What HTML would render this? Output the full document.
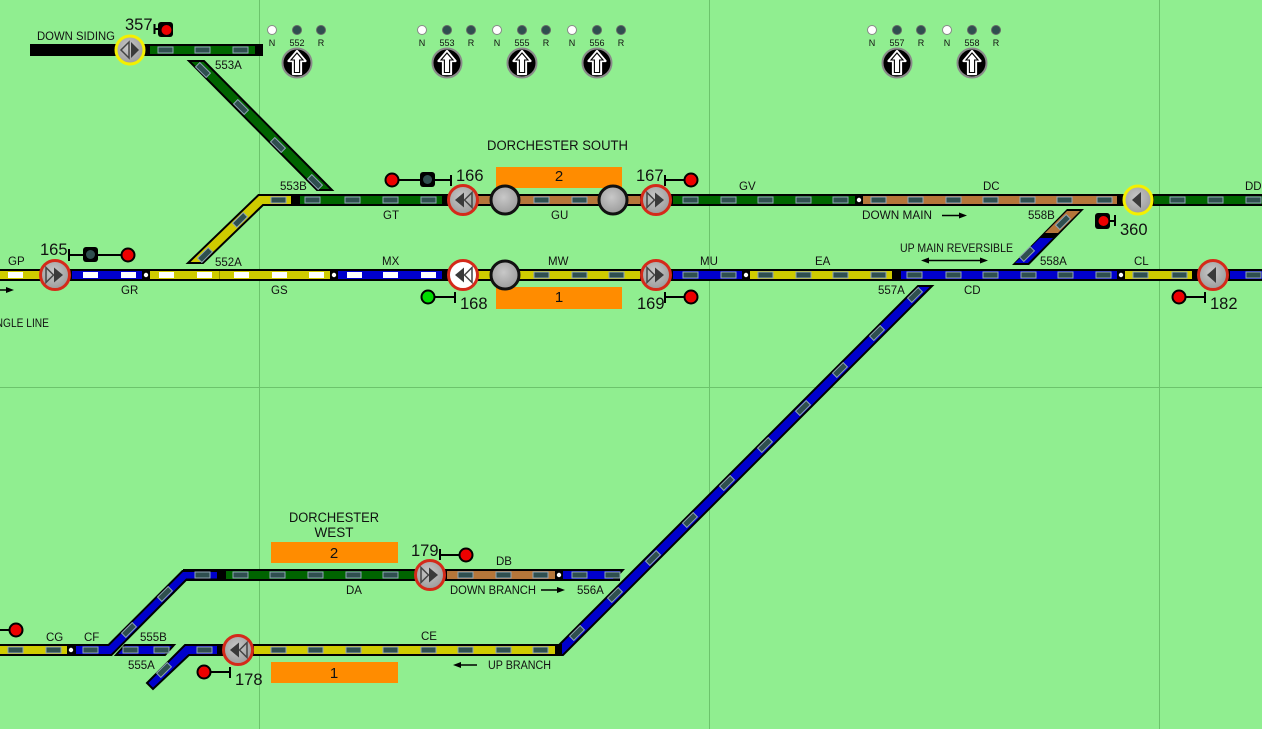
<!DOCTYPE html>
<html><head><meta charset="utf-8">
<style>
html,body{margin:0;padding:0;background:#90ee90;width:1262px;height:729px;overflow:hidden;}
svg{display:block;}
text{font-family:"Liberation Sans",sans-serif;fill:#111;}
.l{font-size:11.5px;}
.n{font-size:16.5px;}
.k{font-size:9px;}
</style></head><body>
<svg width="1262" height="729" viewBox="0 0 1262 729" xmlns="http://www.w3.org/2000/svg">
<defs>
<rect id="s" width="15" height="6" fill="#2f4f4f" stroke="#8fa6b6" stroke-width="1"/>
<rect id="w" width="15" height="6" fill="#ffffff"/>
<radialGradient id="g" cx="0.45" cy="0.4" r="0.65"><stop offset="0" stop-color="#c8c8c8"/><stop offset="1" stop-color="#989898"/></radialGradient>
<g id="arr">
<polygon points="0,-12 8.5,-2 4,-2 4,11 -4,11 -4,-2 -8.5,-2" fill="#fff" stroke="#fff" stroke-width="2.2" stroke-linejoin="round"/>
<polygon points="0,-10 6,-3 2.6,-3 2.6,9.5 -2.6,9.5 -2.6,-3 -6,-3" fill="#fff" stroke="#000" stroke-width="1.1"/>
</g>
</defs>
<rect width="1262" height="729" fill="#90ee90"/>
<g stroke="#6cc46c" stroke-width="1">
<line x1="259.5" y1="0" x2="259.5" y2="729"/>
<line x1="709.5" y1="0" x2="709.5" y2="729"/>
<line x1="1159.5" y1="0" x2="1159.5" y2="729"/>
<line x1="0" y1="387.5" x2="1262" y2="387.5"/>
</g>

<!-- ===== Top levers ===== -->
<g>
<circle cx="272" cy="30" r="4.5" fill="#fff" stroke="#888" stroke-width="1"/>
<circle cx="297" cy="30" r="4.5" fill="#2f4f4f" stroke="#666" stroke-width="1"/>
<circle cx="321" cy="30" r="4.5" fill="#2f4f4f" stroke="#666" stroke-width="1"/>
<text class="k" x="272" y="46" text-anchor="middle">N</text>
<text class="k" x="297" y="46" text-anchor="middle">552</text>
<text class="k" x="321" y="46" text-anchor="middle">R</text>
<circle cx="297" cy="63" r="14.5" fill="#000" stroke="#8a8a8a" stroke-width="2"/>
<use href="#arr" transform="translate(297,63)"/>

<circle cx="422" cy="30" r="4.5" fill="#fff" stroke="#888" stroke-width="1"/>
<circle cx="447" cy="30" r="4.5" fill="#2f4f4f" stroke="#666" stroke-width="1"/>
<circle cx="471" cy="30" r="4.5" fill="#2f4f4f" stroke="#666" stroke-width="1"/>
<text class="k" x="422" y="46" text-anchor="middle">N</text>
<text class="k" x="447" y="46" text-anchor="middle">553</text>
<text class="k" x="471" y="46" text-anchor="middle">R</text>
<circle cx="447" cy="63" r="14.5" fill="#000" stroke="#8a8a8a" stroke-width="2"/>
<use href="#arr" transform="translate(447,63)"/>

<circle cx="497" cy="30" r="4.5" fill="#fff" stroke="#888" stroke-width="1"/>
<circle cx="522" cy="30" r="4.5" fill="#2f4f4f" stroke="#666" stroke-width="1"/>
<circle cx="546" cy="30" r="4.5" fill="#2f4f4f" stroke="#666" stroke-width="1"/>
<text class="k" x="497" y="46" text-anchor="middle">N</text>
<text class="k" x="522" y="46" text-anchor="middle">555</text>
<text class="k" x="546" y="46" text-anchor="middle">R</text>
<circle cx="522" cy="63" r="14.5" fill="#000" stroke="#8a8a8a" stroke-width="2"/>
<use href="#arr" transform="translate(522,63)"/>

<circle cx="572" cy="30" r="4.5" fill="#fff" stroke="#888" stroke-width="1"/>
<circle cx="597" cy="30" r="4.5" fill="#2f4f4f" stroke="#666" stroke-width="1"/>
<circle cx="621" cy="30" r="4.5" fill="#2f4f4f" stroke="#666" stroke-width="1"/>
<text class="k" x="572" y="46" text-anchor="middle">N</text>
<text class="k" x="597" y="46" text-anchor="middle">556</text>
<text class="k" x="621" y="46" text-anchor="middle">R</text>
<circle cx="597" cy="63" r="14.5" fill="#000" stroke="#8a8a8a" stroke-width="2"/>
<use href="#arr" transform="translate(597,63)"/>

<circle cx="872" cy="30" r="4.5" fill="#fff" stroke="#888" stroke-width="1"/>
<circle cx="897" cy="30" r="4.5" fill="#2f4f4f" stroke="#666" stroke-width="1"/>
<circle cx="921" cy="30" r="4.5" fill="#2f4f4f" stroke="#666" stroke-width="1"/>
<text class="k" x="872" y="46" text-anchor="middle">N</text>
<text class="k" x="897" y="46" text-anchor="middle">557</text>
<text class="k" x="921" y="46" text-anchor="middle">R</text>
<circle cx="897" cy="63" r="14.5" fill="#000" stroke="#8a8a8a" stroke-width="2"/>
<use href="#arr" transform="translate(897,63)"/>

<circle cx="947" cy="30" r="4.5" fill="#fff" stroke="#888" stroke-width="1"/>
<circle cx="972" cy="30" r="4.5" fill="#2f4f4f" stroke="#666" stroke-width="1"/>
<circle cx="996" cy="30" r="4.5" fill="#2f4f4f" stroke="#666" stroke-width="1"/>
<text class="k" x="947" y="46" text-anchor="middle">N</text>
<text class="k" x="972" y="46" text-anchor="middle">558</text>
<text class="k" x="996" y="46" text-anchor="middle">R</text>
<circle cx="972" cy="63" r="14.5" fill="#000" stroke="#8a8a8a" stroke-width="2"/>
<use href="#arr" transform="translate(972,63)"/>
</g>

<!-- ===== Top siding ===== -->
<rect x="30" y="44" width="233" height="12" fill="#000"/>
<rect x="150" y="46" width="105" height="8" fill="#006400"/>
<use href="#s" x="158" y="47"/><use href="#s" x="195" y="47"/><use href="#s" x="233" y="47"/>
<text class="l" x="37" y="40" textLength="78" lengthAdjust="spacingAndGlyphs">DOWN SIDING</text>
<text class="l" x="215" y="69">553A</text>
<polygon points="189,61 204,61 332,190 317,190" fill="#006400" stroke="#000" stroke-width="2"/>
<use href="#s" transform="translate(203,70) rotate(45) translate(-7.5,-3)"/>
<use href="#s" transform="translate(241,107) rotate(45) translate(-7.5,-3)"/>
<use href="#s" transform="translate(278,145) rotate(45) translate(-7.5,-3)"/>
<use href="#s" transform="translate(315,182) rotate(45) translate(-7.5,-3)"/>
<!-- signal 357 -->
<circle cx="130" cy="50" r="14" fill="url(#g)" stroke="#f4f000" stroke-width="3"/>
<polygon points="129,42 129,58 121,50" fill="none" stroke="#444" stroke-width="1.5"/>
<polygon points="131,42 131,58 139,50" fill="#3a3a3a"/>
<text class="n" x="125" y="30">357</text>
<rect x="153.5" y="24" width="2" height="10" fill="#000"/>
<rect x="155" y="28" width="4" height="2" fill="#000"/>
<rect x="158" y="22" width="15" height="15" rx="3" fill="#000"/>
<circle cx="166.5" cy="30" r="5" fill="#ee0000"/>

<!-- ===== Row A (down main) y=200 ===== -->
<rect x="290" y="194" width="972" height="12" fill="#000"/>
<polygon points="188,263 258.5,195 292,195 292,205 263,205 203,263" fill="#cfcb00" stroke="#000" stroke-width="2"/>
<use href="#s" transform="translate(205,255) rotate(-45) translate(-7.5,-3)"/>
<use href="#s" transform="translate(240,220) rotate(-45) translate(-7.5,-3)"/>
<use href="#s" x="271" y="197"/>
<rect x="300" y="196" width="142" height="8" fill="#006400"/>
<rect x="478" y="196" width="162" height="8" fill="#b5763a"/>
<rect x="673" y="196" width="182" height="8" fill="#006400"/>
<circle cx="859" cy="200" r="2.2" fill="#fff"/>
<rect x="863" y="196" width="254" height="8" fill="#b5763a"/>
<rect x="1154" y="196" width="108" height="8" fill="#006400"/>
<g>
<use href="#s" x="305" y="197"/><use href="#s" x="345" y="197"/><use href="#s" x="383" y="197"/><use href="#s" x="421" y="197"/>
<use href="#s" x="534" y="197"/><use href="#s" x="572" y="197"/>
<use href="#s" x="683" y="197"/><use href="#s" x="721" y="197"/><use href="#s" x="758" y="197"/><use href="#s" x="796" y="197"/><use href="#s" x="833" y="197"/>
<use href="#s" x="871" y="197"/><use href="#s" x="908" y="197"/><use href="#s" x="946" y="197"/><use href="#s" x="983" y="197"/><use href="#s" x="1020" y="197"/><use href="#s" x="1057" y="197"/><use href="#s" x="1097" y="197"/>
<use href="#s" x="1170" y="197"/><use href="#s" x="1208" y="197"/><use href="#s" x="1246" y="197"/>
</g>

<!-- ===== Row B (up main) y=275 ===== -->
<rect x="0" y="269" width="1262" height="12" fill="#000"/>
<rect x="0" y="271" width="40" height="8" fill="#cfcb00"/>
<rect x="72" y="271" width="70" height="8" fill="#0000cc"/>
<circle cx="146" cy="275" r="2.2" fill="#fff"/>
<rect x="150" y="271" width="180" height="8" fill="#cfcb00"/>
<rect x="219" y="271" width="0.8" height="8" fill="#8a8600"/>
<circle cx="334" cy="275" r="2.2" fill="#fff"/>
<rect x="338" y="271" width="104" height="8" fill="#0000cc"/>
<rect x="478" y="271" width="162" height="8" fill="#cfcb00"/>
<rect x="673" y="271" width="69" height="8" fill="#0000cc"/>
<circle cx="746" cy="275" r="2.2" fill="#fff"/>
<rect x="750" y="271" width="142" height="8" fill="#cfcb00"/>
<rect x="901" y="271" width="216" height="8" fill="#0000cc"/>
<circle cx="1121" cy="275" r="2.2" fill="#fff"/>
<rect x="1125" y="271" width="67" height="8" fill="#cfcb00"/>
<rect x="1230" y="271" width="32" height="8" fill="#0000cc"/>
<g>
<use href="#w" x="8" y="272"/>
<use href="#w" x="83" y="272"/><use href="#w" x="121" y="272"/>
<use href="#w" x="159" y="272"/><use href="#w" x="197" y="272"/><use href="#w" x="234" y="272"/><use href="#w" x="272" y="272"/><use href="#w" x="309" y="272"/>
<use href="#w" x="347" y="272"/><use href="#w" x="383" y="272"/><use href="#w" x="421" y="272"/>
<use href="#s" x="534" y="272"/><use href="#s" x="572" y="272"/><use href="#s" x="609" y="272"/>
<use href="#s" x="683" y="272"/><use href="#s" x="721" y="272"/>
<use href="#s" x="758" y="272"/><use href="#s" x="796" y="272"/><use href="#s" x="833" y="272"/><use href="#s" x="871" y="272"/>
<use href="#s" x="907" y="272"/><use href="#s" x="946" y="272"/><use href="#s" x="983" y="272"/><use href="#s" x="1021" y="272"/><use href="#s" x="1058" y="272"/><use href="#s" x="1096" y="272"/>
<use href="#s" x="1133" y="272"/><use href="#s" x="1172" y="272"/>
<use href="#s" x="1246" y="272"/>
</g>

<!-- 558 crossover -->
<polygon points="1067,209 1084,209 1029,265 1012,265" fill="#000"/>
<polygon points="1067,211 1080,211 1058,233 1045,233" fill="#b5763a"/>
<polygon points="1040,238 1053,238 1028,263 1015,263" fill="#0000cc"/>
<use href="#s" transform="translate(1063,222) rotate(-45) translate(-7.5,-3)"/>
<use href="#s" transform="translate(1027,254) rotate(-45) translate(-7.5,-3)"/>

<!-- 557A long diagonal -->
<polygon points="918,286 932,286 563,655 549,655" fill="#0000cc" stroke="#000" stroke-width="2"/>
<g>
<use href="#s" transform="translate(915,295) rotate(-45) translate(-7.5,-3)"/>
<use href="#s" transform="translate(877,333) rotate(-45) translate(-7.5,-3)"/>
<use href="#s" transform="translate(840,370) rotate(-45) translate(-7.5,-3)"/>
<use href="#s" transform="translate(803,408) rotate(-45) translate(-7.5,-3)"/>
<use href="#s" transform="translate(765,445) rotate(-45) translate(-7.5,-3)"/>
<use href="#s" transform="translate(727,483) rotate(-45) translate(-7.5,-3)"/>
<use href="#s" transform="translate(690,520) rotate(-45) translate(-7.5,-3)"/>
<use href="#s" transform="translate(653,558) rotate(-45) translate(-7.5,-3)"/>
<use href="#s" transform="translate(615,595) rotate(-45) translate(-7.5,-3)"/>
<use href="#s" transform="translate(577,633) rotate(-45) translate(-7.5,-3)"/>
</g>

<!-- Dorchester South platforms -->
<rect x="496" y="167" width="126" height="21" fill="#ff8c00"/>
<rect x="496" y="287" width="126" height="22" fill="#ff8c00"/>
<text x="559" y="181" text-anchor="middle" style="font-size:15px">2</text>
<text x="559" y="302" text-anchor="middle" style="font-size:15px">1</text>
<text x="487" y="150" textLength="141" lengthAdjust="spacingAndGlyphs" style="font-size:13.5px">DORCHESTER SOUTH</text>

<!-- gray circles -->
<circle cx="505" cy="200" r="14" fill="url(#g)" stroke="#111" stroke-width="3"/>
<circle cx="613" cy="200" r="14" fill="url(#g)" stroke="#111" stroke-width="3"/>
<circle cx="505" cy="275" r="14" fill="url(#g)" stroke="#111" stroke-width="3"/>

<!-- signal 165 -->
<circle cx="55" cy="275" r="14.5" fill="url(#g)" stroke="#d42a1a" stroke-width="3"/>
<polygon points="46,267.5 46,282.5 53.5,275" fill="none" stroke="#444" stroke-width="1.5"/>
<polygon points="54,267.5 54,282.5 63,275" fill="#3a3a3a"/>
<text class="n" x="40" y="255">165</text>
<rect x="68" y="249" width="2" height="12" fill="#000"/>
<rect x="69" y="254" width="14" height="2" fill="#000"/>
<rect x="83" y="247" width="15" height="15" rx="3" fill="#000"/>
<circle cx="90.5" cy="254.5" r="4.5" fill="#2f4f4f"/>
<rect x="98" y="254" width="23" height="2" fill="#000"/>
<circle cx="128" cy="255" r="6.5" fill="#ee0000" stroke="#000" stroke-width="2"/>

<!-- signal 166 -->
<circle cx="463" cy="200" r="14.5" fill="url(#g)" stroke="#d42a1a" stroke-width="3"/>
<polygon points="464,192.5 464,207.5 455,200" fill="#3a3a3a"/>
<polygon points="472,192.5 472,207.5 464.5,200" fill="none" stroke="#444" stroke-width="1.5"/>
<circle cx="392" cy="180" r="6.5" fill="#ee0000" stroke="#000" stroke-width="2"/>
<rect x="399" y="179" width="21" height="2" fill="#000"/>
<rect x="420" y="172" width="15" height="15" rx="3" fill="#000"/>
<circle cx="427.5" cy="179.5" r="4.5" fill="#2f4f4f"/>
<rect x="435" y="179" width="16" height="2" fill="#000"/>
<rect x="450" y="175" width="2" height="11" fill="#000"/>
<text class="n" x="456" y="181">166</text>

<!-- signal 167 -->
<circle cx="656" cy="200" r="14.5" fill="url(#g)" stroke="#d42a1a" stroke-width="3"/>
<polygon points="647,192.5 647,207.5 654.5,200" fill="none" stroke="#444" stroke-width="1.5"/>
<polygon points="655,192.5 655,207.5 664,200" fill="#3a3a3a"/>
<text class="n" x="636" y="181">167</text>
<rect x="664" y="175" width="2" height="11" fill="#000"/>
<rect x="665" y="179" width="20" height="2" fill="#000"/>
<circle cx="691" cy="180" r="6.5" fill="#ee0000" stroke="#000" stroke-width="2"/>

<!-- signal 168 -->
<circle cx="463" cy="275" r="14.5" fill="#fff" stroke="#d42a1a" stroke-width="3"/>
<polygon points="464,267.5 464,282.5 455,275" fill="#3a3a3a"/>
<polygon points="472,267.5 472,282.5 464.5,275" fill="none" stroke="#444" stroke-width="1.5"/>
<circle cx="428" cy="297" r="6.5" fill="#00dd00" stroke="#000" stroke-width="2"/>
<rect x="435" y="296" width="20" height="2" fill="#000"/>
<rect x="454" y="292" width="2" height="11" fill="#000"/>
<text class="n" x="460" y="309">168</text>

<!-- signal 169 -->
<circle cx="656" cy="275" r="14.5" fill="url(#g)" stroke="#d42a1a" stroke-width="3"/>
<polygon points="647,267.5 647,282.5 654.5,275" fill="none" stroke="#444" stroke-width="1.5"/>
<polygon points="655,267.5 655,282.5 664,275" fill="#3a3a3a"/>
<text class="n" x="637" y="309">169</text>
<rect x="664" y="292" width="2" height="11" fill="#000"/>
<rect x="665" y="296" width="20" height="2" fill="#000"/>
<circle cx="691" cy="297" r="6.5" fill="#ee0000" stroke="#000" stroke-width="2"/>

<!-- signal (360) -->
<circle cx="1138" cy="200" r="14" fill="url(#g)" stroke="#f4f000" stroke-width="3"/>
<polygon points="1141,192 1141,208 1132,200" fill="#3a3a3a"/>
<rect x="1095" y="213" width="15" height="16" rx="3" fill="#000"/>
<circle cx="1103.5" cy="221" r="5" fill="#ee0000"/>
<rect x="1109" y="220" width="6" height="2" fill="#000"/>
<rect x="1114" y="215" width="2" height="11" fill="#000"/>
<text class="n" x="1120" y="235">360</text>

<!-- signal 182 -->
<circle cx="1213" cy="275" r="14.5" fill="url(#g)" stroke="#d42a1a" stroke-width="3"/>
<polygon points="1216,267 1216,283 1207,275" fill="#3a3a3a"/>
<circle cx="1179" cy="297" r="6.5" fill="#ee0000" stroke="#000" stroke-width="2"/>
<rect x="1186" y="296" width="19" height="2" fill="#000"/>
<rect x="1204" y="292" width="2" height="11" fill="#000"/>
<text class="n" x="1210" y="309">182</text>

<!-- Row A / B labels -->
<text class="l" x="280" y="190">553B</text>
<text class="l" x="215" y="266">552A</text>
<text class="l" x="8" y="265">GP</text>
<text class="l" x="121" y="294">GR</text>
<text class="l" x="271" y="294">GS</text>
<text class="l" x="382" y="265">MX</text>
<text class="l" x="383" y="219">GT</text>
<text class="l" x="551" y="219">GU</text>
<text class="l" x="548" y="265">MW</text>
<text class="l" x="739" y="190">GV</text>
<text class="l" x="983" y="190">DC</text>
<text class="l" x="1245" y="190">DD</text>
<text class="l" x="862" y="219" textLength="70" lengthAdjust="spacingAndGlyphs">DOWN MAIN</text>
<text class="l" x="1028" y="219">558B</text>
<text class="l" x="900" y="252" textLength="113" lengthAdjust="spacingAndGlyphs">UP MAIN REVERSIBLE</text>
<text class="l" x="1040" y="265">558A</text>
<text class="l" x="1134" y="265">CL</text>
<text class="l" x="700" y="265">MU</text>
<text class="l" x="815" y="265">EA</text>
<text class="l" x="878" y="294">557A</text>
<text class="l" x="964" y="294">CD</text>
<text class="l" x="-14" y="327" textLength="63" lengthAdjust="spacingAndGlyphs">SINGLE LINE</text>
<!-- arrows -->
<g stroke="#000" stroke-width="1.5">
<line x1="0" y1="290" x2="8" y2="290"/>
<line x1="942" y1="215.5" x2="960" y2="215.5"/>
<line x1="926" y1="260.5" x2="983" y2="260.5"/>
<line x1="541" y1="590" x2="558" y2="590"/>
<line x1="459" y1="665" x2="477" y2="665"/>
</g>
<g fill="#000">
<polygon points="14,290 6,287 6,293"/>
<polygon points="967,215.5 959,212.5 959,218.5"/>
<polygon points="921,260.5 929,257.5 929,263.5"/>
<polygon points="988,260.5 980,257.5 980,263.5"/>
<polygon points="565,590 557,587 557,593"/>
<polygon points="453,665 461,662 461,668"/>
</g>

<!-- ===== Bottom: DA row y=575 ===== -->
<rect x="183" y="569" width="437" height="12" fill="#000"/>
<polygon points="614,581 625,569 620,569 620,581" fill="#000"/>
<polygon points="75,645 108.5,645 182.5,571 218,571 218,579.5 186.5,579.5 111.5,655 75,655" fill="#0000cc" stroke="#000" stroke-width="2"/>
<rect x="226" y="571" width="189" height="8" fill="#006400"/>
<rect x="447" y="571" width="108" height="8" fill="#b5763a"/>
<circle cx="559" cy="575" r="2.2" fill="#fff"/>
<polygon points="563,571 620,571 613,579 563,579" fill="#0000cc"/>
<use href="#s" x="195" y="572"/>
<use href="#s" transform="translate(165,594) rotate(-45) translate(-7.5,-3)"/>
<use href="#s" transform="translate(129,630) rotate(-45) translate(-7.5,-3)"/>
<use href="#s" x="83" y="647"/>
<use href="#s" x="233" y="572"/><use href="#s" x="270" y="572"/><use href="#s" x="308" y="572"/><use href="#s" x="346" y="572"/><use href="#s" x="383" y="572"/>
<use href="#s" x="458" y="572"/><use href="#s" x="496" y="572"/><use href="#s" x="533" y="572"/>
<use href="#s" x="572" y="572"/><use href="#s" x="605" y="572"/>

<!-- CE row y=650 -->
<rect x="0" y="644" width="75" height="12" fill="#000"/>
<rect x="0" y="646" width="67" height="8" fill="#cfcb00"/>
<circle cx="71" cy="650" r="2.2" fill="#fff"/>
<use href="#s" x="8" y="647"/><use href="#s" x="46" y="647"/>
<polygon points="125,645 174,645 165,655 116,655" fill="#0000cc" stroke="#000" stroke-width="2"/>
<use href="#s" x="123" y="647"/><use href="#s" x="154" y="647"/>
<polygon points="147,683 185,645 218,645 218,655 189,655 153,689" fill="#0000cc" stroke="#000" stroke-width="2"/>
<use href="#s" transform="translate(164,670) rotate(-45) translate(-7.5,-3)"/>
<use href="#s" x="197" y="647"/>
<rect x="218" y="644" width="344" height="12" fill="#000"/>
<rect x="254" y="646" width="301" height="8" fill="#cfcb00"/>
<use href="#s" x="271" y="647"/><use href="#s" x="308" y="647"/><use href="#s" x="346" y="647"/><use href="#s" x="383" y="647"/><use href="#s" x="421" y="647"/><use href="#s" x="458" y="647"/><use href="#s" x="496" y="647"/><use href="#s" x="533" y="647"/>

<!-- signal 179 -->
<circle cx="430" cy="575" r="14.5" fill="url(#g)" stroke="#d42a1a" stroke-width="3"/>
<polygon points="421,567.5 421,582.5 428.5,575" fill="none" stroke="#444" stroke-width="1.5"/>
<polygon points="429,567.5 429,582.5 438,575" fill="#3a3a3a"/>
<text class="n" x="411" y="556">179</text>
<rect x="439" y="549" width="2" height="11" fill="#000"/>
<rect x="440" y="554" width="20" height="2" fill="#000"/>
<circle cx="466" cy="555" r="6.5" fill="#ee0000" stroke="#000" stroke-width="2"/>

<!-- signal 178 -->
<circle cx="238" cy="650" r="14.5" fill="url(#g)" stroke="#d42a1a" stroke-width="3"/>
<polygon points="239,642.5 239,657.5 230,650" fill="#3a3a3a"/>
<polygon points="247,642.5 247,657.5 239.5,650" fill="none" stroke="#444" stroke-width="1.5"/>
<circle cx="204" cy="672" r="6.5" fill="#ee0000" stroke="#000" stroke-width="2"/>
<rect x="211" y="671" width="19" height="2" fill="#000"/>
<rect x="229" y="667" width="2" height="11" fill="#000"/>
<text class="n" x="235" y="685">178</text>

<!-- bottom-left signal -->
<rect x="0" y="629" width="10" height="2" fill="#000"/>
<circle cx="16" cy="630" r="6.5" fill="#ee0000" stroke="#000" stroke-width="2"/>

<!-- Dorchester West -->
<text x="334" y="522" text-anchor="middle" textLength="90" lengthAdjust="spacingAndGlyphs" style="font-size:13.5px">DORCHESTER</text>
<text x="334" y="537" text-anchor="middle" style="font-size:13.5px">WEST</text>
<rect x="271" y="542" width="127" height="21" fill="#ff8c00"/>
<rect x="271" y="662" width="127" height="21" fill="#ff8c00"/>
<text x="334" y="558" text-anchor="middle" style="font-size:15px">2</text>
<text x="334" y="678" text-anchor="middle" style="font-size:15px">1</text>

<!-- bottom labels -->
<text class="l" x="346" y="594">DA</text>
<text class="l" x="496" y="565">DB</text>
<text class="l" x="450" y="594" textLength="86" lengthAdjust="spacingAndGlyphs">DOWN BRANCH</text>
<text class="l" x="577" y="594">556A</text>
<text class="l" x="421" y="640">CE</text>
<text class="l" x="488" y="669" textLength="63" lengthAdjust="spacingAndGlyphs">UP BRANCH</text>
<text class="l" x="46" y="641">CG</text>
<text class="l" x="84" y="641">CF</text>
<text class="l" x="140" y="641">555B</text>
<text class="l" x="128" y="669">555A</text>
</svg>
</body></html>
